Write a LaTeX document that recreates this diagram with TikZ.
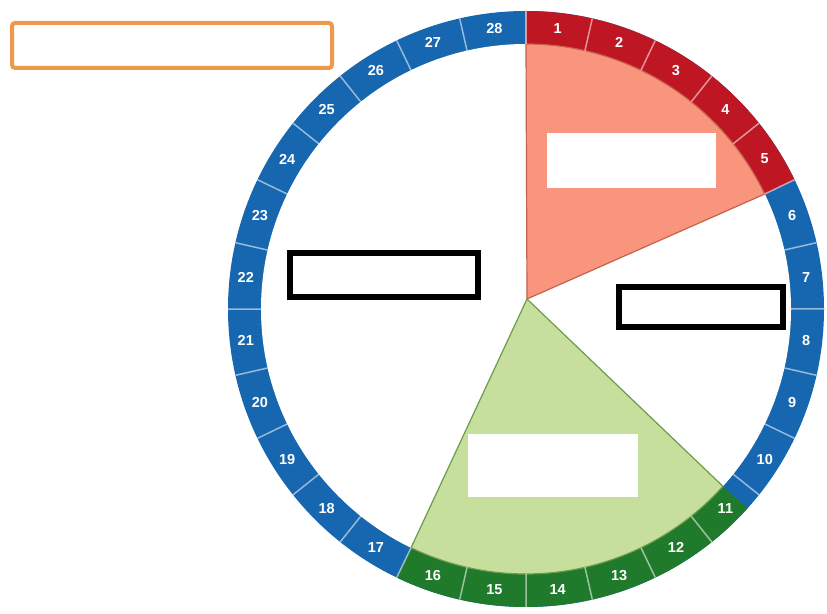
\documentclass[tikz,border=0pt]{standalone}
\usepackage{fontspec}
\setsansfont{Liberation Sans}

\definecolor{ringblue}{HTML}{1666B0}
\definecolor{ringred}{HTML}{BE1622}
\definecolor{ringgreen}{HTML}{1F7A2C}
\definecolor{wedgepink}{HTML}{F9957C}
\definecolor{pinkedge}{HTML}{C4624E}
\definecolor{wedgegreen}{HTML}{C6DF9C}
\definecolor{greenedge}{HTML}{6E9B4B}
\definecolor{boxorange}{HTML}{EE9A4D}

\begin{document}
\begin{tikzpicture}[x=1pt,y=1pt]
  \tikzstyle{daynum}=[font=\sffamily\bfseries\fontsize{14.5}{14.5}\selectfont,text=white,inner sep=0pt]
  \tikzstyle{blank}=[fill=white,inner sep=0pt]
  \tikzstyle{answer}=[draw=black,line width=6pt,fill=white,inner sep=0pt]
  \useasboundingbox (0,0) rectangle (827,613);
  \clip (0,0) rectangle (827,613);
  \fill[white] (0,0) rectangle (827,613);
  \def\Ro{298} \def\Ri{265} \def\Rl{282} \def\da{12.857}
  \def\gstart{-42} % green part of the ring starts here
  \coordinate (c) at (526,304);
  \coordinate (apex) at (527,314);
  \begin{scope}[shift={(c)}]
    % ring of days
    \fill[ringblue] (0,0) circle[radius=\Ro];
    \fill[white] (0,0) circle[radius=\Ri];
    \fill[ringred] (90:\Ro) arc[start angle=90,end angle=90-5*\da,radius=\Ro]
      -- (90-5*\da:\Ri) arc[start angle=90-5*\da,end angle=90,radius=\Ri] -- cycle;
    \fill[ringgreen] (\gstart:\Ro) arc[start angle=\gstart,end angle=90-16*\da,radius=\Ro]
      -- (90-16*\da:\Ri) arc[start angle=90-16*\da,end angle=\gstart,radius=\Ri] -- cycle;
    % wedges
    \filldraw[fill=wedgepink,draw=pinkedge,line width=1.2pt] (apex) -- (90:\Ri)
      arc[start angle=90,end angle=90-5*\da,radius=\Ri] -- cycle;
    \filldraw[fill=wedgegreen,draw=greenedge,line width=1.2pt] (apex) -- (\gstart:\Ri)
      arc[start angle=\gstart,end angle=90-16*\da,radius=\Ri] -- cycle;
    \foreach \k in {1,...,28}{
      \pgfmathsetmacro\a{90-(\k-1)*\da}
      \pgfmathsetmacro\m{90-(\k-0.5)*\da}
      \draw[white,opacity=.55,line width=1.5pt] (\a:\Ri) -- (\a:\Ro);
      \node[daynum] (day\k) at (\m:\Rl) {\k};
    }
  \end{scope}
  % empty label boxes
  \node[blank,minimum width=169,minimum height=55] (menses) at (631.5,452.5) {};
  \node[blank,minimum width=170,minimum height=63] (fertile) at (553,147.5) {};
  \node[answer,minimum width=188,minimum height=44] (leftans) at (384,338) {};
  \node[answer,minimum width=164,minimum height=40] (rightans) at (701,306) {};
  \node[draw=boxorange,line width=4pt,rounded corners=3pt,fill=white,inner sep=0pt,
    minimum width=320,minimum height=45] (title) at (172,567.5) {};
\end{tikzpicture}
\end{document}
